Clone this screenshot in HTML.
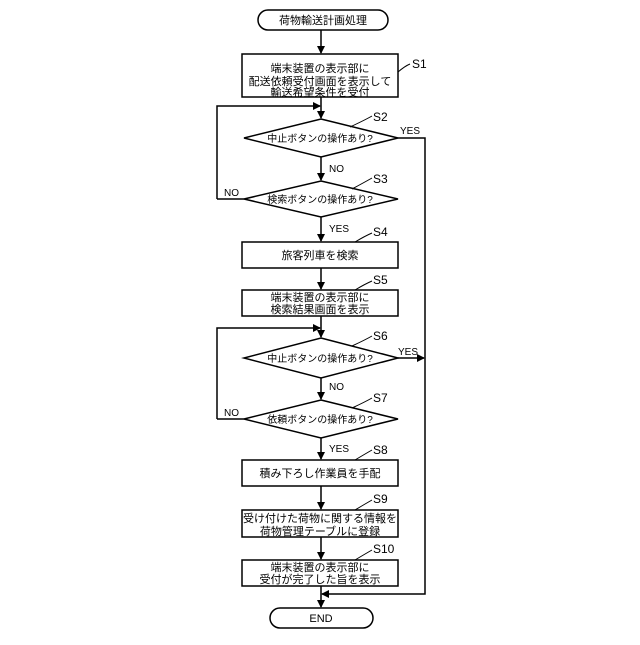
<!DOCTYPE html>
<html><head><meta charset="utf-8"><style>
html,body{margin:0;padding:0;background:#fff;}
svg text{font-family:"Liberation Sans","Noto Sans CJK JP",sans-serif;fill:#000;}
</style></head><body>
<svg width="640" height="640" viewBox="0 0 640 640" xmlns="http://www.w3.org/2000/svg">
<defs><marker id="a" markerWidth="8" markerHeight="8" refX="7" refY="4" orient="auto" markerUnits="userSpaceOnUse"><path d="M0,0 L8,4 L0,8 z" fill="#000"/></marker></defs>
<g stroke="#000" stroke-width="1.5" fill="none">
<rect x="258" y="10" width="130" height="20" rx="10"/>
<line x1="321" y1="30" x2="321" y2="53" marker-end="url(#a)"/>
<rect x="242" y="54" width="156" height="43"/>
<line x1="321" y1="97" x2="321" y2="118" marker-end="url(#a)"/>
<polyline points="217,199 217,106 320,106" marker-end="url(#a)"/>
<polygon points="321,119 398,138 321,157 244,138"/>
<polyline points="398,138 425,138 425,594 322,594" marker-end="url(#a)"/>
<line x1="321" y1="157" x2="321" y2="180" marker-end="url(#a)"/>
<polygon points="321,181 398,199 321,217 244,199"/>
<line x1="244" y1="199" x2="217" y2="199"/>
<line x1="321" y1="217" x2="321" y2="241" marker-end="url(#a)"/>
<rect x="242" y="242" width="156" height="26"/>
<line x1="321" y1="268" x2="321" y2="289" marker-end="url(#a)"/>
<rect x="242" y="290" width="156" height="26"/>
<line x1="321" y1="316" x2="321" y2="337" marker-end="url(#a)"/>
<polyline points="217,419 217,328 320,328" marker-end="url(#a)"/>
<polygon points="321,338 398,358 321,378 244,358"/>
<line x1="398" y1="358" x2="424" y2="358" marker-end="url(#a)"/>
<line x1="321" y1="378" x2="321" y2="399" marker-end="url(#a)"/>
<polygon points="321,400 398,419 321,438 244,419"/>
<line x1="244" y1="419" x2="217" y2="419"/>
<line x1="321" y1="438" x2="321" y2="459" marker-end="url(#a)"/>
<rect x="242" y="460" width="156" height="26"/>
<line x1="321" y1="486" x2="321" y2="509" marker-end="url(#a)"/>
<rect x="242" y="510" width="156" height="27"/>
<line x1="321" y1="537" x2="321" y2="559" marker-end="url(#a)"/>
<rect x="242" y="560" width="156" height="26"/>
<line x1="321" y1="586" x2="321" y2="607" marker-end="url(#a)"/>
<rect x="270" y="608" width="103" height="20" rx="10"/>
<g stroke-width="1">
<path d="M398,72 Q405,66 410,64"/><path d="M350,127 Q365,120 372,116"/><path d="M352,189 Q365,182 372,178"/>
<path d="M355,242 Q365,236 372,233"/><path d="M355,290 Q365,284 372,281"/><path d="M352,346 Q365,340 372,336"/>
<path d="M352,408 Q365,402 372,398"/><path d="M355,460 Q365,454 372,450"/><path d="M355,510 Q365,504 372,500"/>
<path d="M355,560 Q365,554 372,550"/>
</g>
</g>
<g font-size="11" text-anchor="middle">
<text x="323" y="24">荷物輸送計画処理</text>
<text x="320" y="72">端末装置の表示部に</text>
<text x="320" y="85">配送依頼受付画面を表示して</text>
<text x="320" y="98" dy="-2">輸送希望条件を受付</text>
<text x="320" y="142" font-size="10">中止ボタンの操作あり?</text>
<text x="320" y="203" font-size="10">検索ボタンの操作あり?</text>
<text x="320" y="259">旅客列車を検索</text>
<text x="320" y="301">端末装置の表示部に</text>
<text x="320" y="313">検索結果画面を表示</text>
<text x="320" y="362" font-size="10">中止ボタンの操作あり?</text>
<text x="320" y="423" font-size="10">依頼ボタンの操作あり?</text>
<text x="320" y="477">積み下ろし作業員を手配</text>
<text x="320" y="522">受け付けた荷物に関する情報を</text>
<text x="320" y="535">荷物管理テーブルに登録</text>
<text x="320" y="571">端末装置の表示部に</text>
<text x="320" y="583">受付が完了した旨を表示</text>
<text x="321" y="622">END</text>
</g>
<g font-size="10">
<text x="400" y="134">YES</text><text x="329" y="172">NO</text><text x="224" y="196">NO</text>
<text x="329" y="232">YES</text><text x="398" y="355">YES</text><text x="329" y="390">NO</text>
<text x="224" y="416">NO</text><text x="329" y="452">YES</text>
</g>
<g font-size="12">
<text x="412" y="68">S1</text><text x="373" y="121">S2</text><text x="373" y="183">S3</text>
<text x="373" y="236">S4</text><text x="373" y="284">S5</text><text x="373" y="340">S6</text>
<text x="373" y="402">S7</text><text x="373" y="454">S8</text><text x="373" y="503">S9</text>
<text x="373" y="553">S10</text>
</g>
</svg>
</body></html>
